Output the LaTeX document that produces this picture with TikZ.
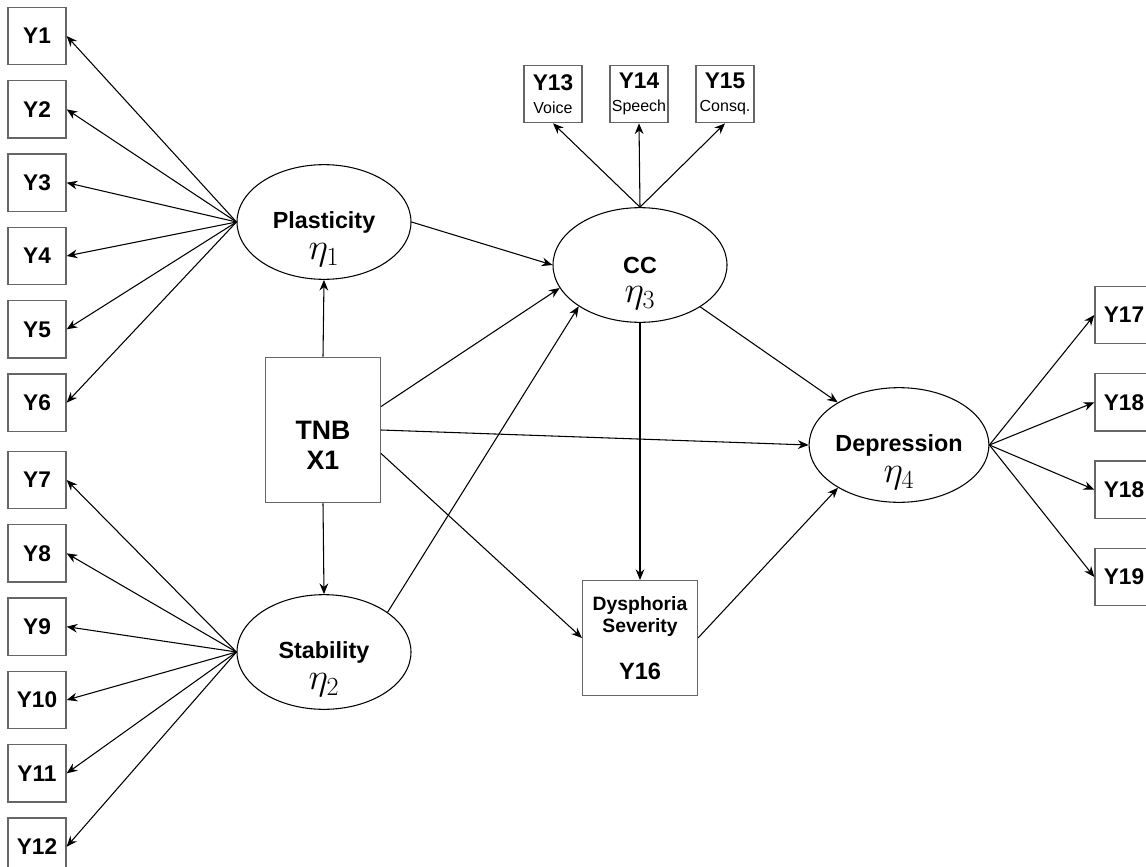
\RequirePackage{fix-cm}
\documentclass[tikz,border=0pt]{standalone}
\usepackage[no-math]{fontspec}
\setmainfont{Liberation Sans}
\usetikzlibrary{arrows.meta, positioning, shapes.geometric}

\tikzset{
  obs/.style={draw=black!60, line width=1pt, minimum width=43.5pt, minimum height=43pt, inner sep=0pt, align=center, font=\fontsize{17}{17}\selectfont\bfseries},
  latent/.style={draw, line width=0.8pt, ellipse, minimum width=130.5pt, minimum height=86pt, inner sep=0pt, font=\fontsize{17.5}{20}\selectfont\bfseries},
  etalbl/.style={yshift=-25pt, inner sep=0pt, font=\fontsize{28}{30}\selectfont},
  arr/.style={-{Stealth[length=8pt, width=6.5pt]}, line width=0.8pt}
}

\begin{document}
\begin{tikzpicture}[x=0.75pt, y=-0.75pt, node distance=11pt]
\fill[white] (0,0) rectangle (1146,867);
\useasboundingbox (0,0) rectangle (1146,867);

% indicators of plasticity and stability
\node[obs] (y1) at (37,36) {Y1};
\node[obs, below=of y1] (y2) {Y2};
\node[obs, below=of y2] (y3) {Y3};
\node[obs, below=of y3] (y4) {Y4};
\node[obs, below=of y4] (y5) {Y5};
\node[obs, below=of y5] (y6) {Y6};
\node[obs] (y7) at (37,480) {Y7};
\node[obs, below=of y7] (y8) {Y8};
\node[obs, below=of y8] (y9) {Y9};
\node[obs, below=of y9] (y10) {Y10};
\node[obs, below=of y10] (y11) {Y11};
\node[obs, below=of y11] (y12) {Y12};

% latent variables
\node[latent, label={[etalbl]center:$\eta_1$}] (pl) at (324,222) {Plasticity};
\node[latent, label={[etalbl]center:$\eta_2$}] (st) at (324,652) {Stability};
\node[latent, label={[etalbl]center:$\eta_3$}] (cc) at (640,265) {CC};
\node[latent, label={[etalbl]center:$\eta_4$}] (dep) at (899,445) {Depression};

% observed variables
\node[obs, minimum width=86pt, minimum height=109pt, font=\fontsize{20}{22}\selectfont\bfseries,
  label={[yshift=-23pt, inner sep=0pt, font=\fontsize{20}{22}\selectfont\bfseries]center:X1}] (tnb) at (323,430) {TNB};
\node[obs, minimum width=86pt, minimum height=86pt, font=\fontsize{14.5}{16.5}\selectfont\bfseries] (dys) at (640,638)
  {Dysphoria\\Severity\\[19pt]{\fontsize{17.7}{16.5}\selectfont Y16}};
\node[obs] (y13) at (553,94) {Y13\\{\fontsize{12}{17}\selectfont\mdseries Voice}};
\node[obs] (y14) at (639,94) {Y14\\{\fontsize{12}{17}\selectfont\mdseries Speech}};
\node[obs] (y15) at (725,94) {Y15\\{\fontsize{12}{17}\selectfont\mdseries Consq.}};
\node[obs] (y17) at (1124,315) {Y17};
\node[obs, below=21.5pt of y17] (y18) {Y18};
\node[obs, below=21.5pt of y18] (y18b) {Y18};
\node[obs, below=21.5pt of y18b] (y19) {Y19};

% loadings
\draw[arr] (pl.west) -- (y1.east); \draw[arr] (pl.west) -- (y2.east);
\draw[arr] (pl.west) -- (y3.east); \draw[arr] (pl.west) -- (y4.east);
\draw[arr] (pl.west) -- (y5.east); \draw[arr] (pl.west) -- (y6.east);
\draw[arr] (st.west) -- (y7.east); \draw[arr] (st.west) -- (y8.east);
\draw[arr] (st.west) -- (y9.east); \draw[arr] (st.west) -- (y10.east);
\draw[arr] (st.west) -- (y11.east); \draw[arr] (st.west) -- (y12.east);
\draw[arr] (cc.north) -- (y13.south); \draw[arr] (cc.north) -- (y14.south);
\draw[arr] (cc.north) -- (y15.south);
\draw[arr] (dep.east) -- (y17.west); \draw[arr] (dep.east) -- (y18.west);
\draw[arr] (dep.east) -- (y18b.west); \draw[arr] (dep.east) -- (y19.west);

% structural paths
\draw[arr] (tnb.north) -- (pl.south);
\draw[arr] (tnb.south) -- (st.north);
\draw[arr] (pl.east) -- (cc.west);
\draw[arr] (tnb.22) -- (cc.196);
\draw[arr] (st.32) -- (cc.214);
\draw[arr] (tnb.east) -- (dep.west);
\draw[arr] (tnb.-22) -- (dys.west);
\draw[arr] (cc.south) -- (dys.north);
\draw[arr] (cc) -- (dep);
\draw[arr] (dys.east) -- (dep.215);
\end{tikzpicture}
\end{document}
